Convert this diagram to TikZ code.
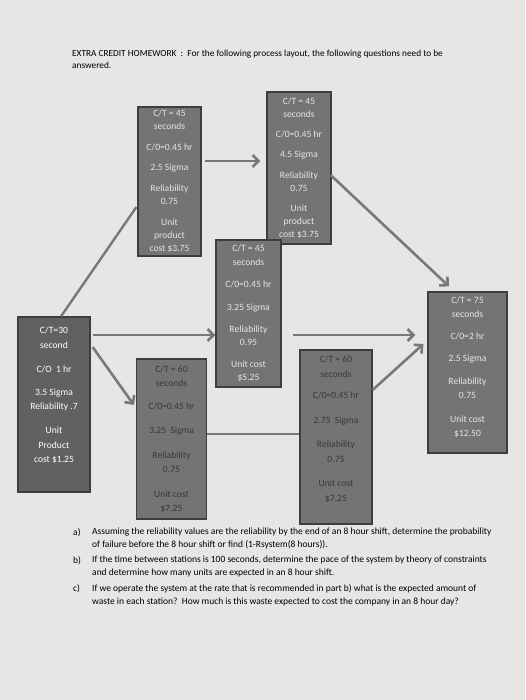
\documentclass[tikz,border=0pt]{standalone}
\usepackage{fontspec}
\setmainfont{Carlito}
\usetikzlibrary{arrows.meta}
\definecolor{paper}{RGB}{230,230,228}
\definecolor{boxfill}{RGB}{116,116,116}
\definecolor{boxline}{RGB}{62,62,62}
\definecolor{arrowgray}{RGB}{120,120,120}
\begin{document}
\begin{tikzpicture}[
        x=1pt, y=-1pt,
        station/.style={draw=boxline, line width=1.2pt, rectangle, fill=boxfill, align=center, text=black!10, inner sep=0pt, font=\fontsize{9.6}{13}\selectfont},
        darktext/.style={text=black!78},
        flow/.style={-{Straight Barb[length=6pt, width=12pt]}, arrowgray, line width=2.6pt},
        link/.style={arrowgray, line width=2.4pt},
        heading/.style={anchor=north west, align=left, inner sep=0pt, font=\fontsize{9.3}{11.5}\selectfont},
        question/.style={anchor=north west, align=left, inner sep=0pt, font=\fontsize{9.5}{13}\selectfont}
    ]
    \useasboundingbox[fill=paper] (0,0) rectangle (525,700);

    % --- Heading ---
    \node[heading] (title) at (72, 50) {EXTRA CREDIT HOMEWORK\ \ :\ \ For the following process layout, the following questions need to be\\answered.};

    % --- Stations ---
    \node[station, minimum width=72, minimum height=175, fill=black!62, text=white, font=\fontsize{9.6}{14.5}\selectfont] (start) at (54, 404.5)
        {C/T=30\\second\\[9.5pt]C/O\ \ 1 hr\\[8.5pt]3.5 Sigma\\Reliability .7\\[9.5pt]Unit\\Product\\cost \$1.25\\[5pt]\mbox{}};
    \node[station, minimum width=63, minimum height=149] (a) at (169.5, 181.5)
        {C/T = 45\\seconds\\[8pt]C/0=0.45 hr\\[7pt]2.5 Sigma\\[8pt]Reliability\\0.75\\[8pt]Unit\\product\\cost \$3.75};
    \node[station, minimum width=64, minimum height=152] (b) at (299, 168)
        {C/T = 45\\seconds\\[7pt]C/0=0.45 hr\\[7pt]4.5 Sigma\\[8pt]Reliability\\0.75\\[7pt]Unit\\product\\cost \$3.75};
    \node[station, minimum width=65, minimum height=147, font=\fontsize{9.6}{13.5}\selectfont] (c) at (248.5, 313.5)
        {C/T = 45\\seconds\\[9pt]C/0=0.45 hr\\[9.5pt]3.25 Sigma\\[8pt]Reliability\\0.95\\[8pt]Unit cost\\\$5.25};
    \node[station, darktext, minimum width=70, minimum height=160, font=\fontsize{9.6}{14.5}\selectfont] (e) at (171.5, 439)
        {C/T = 60\\seconds\\[8pt]C/0=0.45 hr\\[10pt]3.25\ \ Sigma\\[10pt]Reliability\\0.75\\[10pt]Unit cost\\\$7.25};
    \node[station, darktext, minimum width=72, minimum height=174, font=\fontsize{9.6}{14.5}\selectfont] (f) at (336, 437)
        {C/T = 60\\seconds\\[7pt]C/0=0.45 hr\\[10pt]2.75\ \ Sigma\\[10pt]Reliability\\0.75\\[10pt]Unit cost\\\$7.25\\[2pt]\mbox{}};
    \node[station, minimum width=79, minimum height=161, font=\fontsize{9.6}{14}\selectfont] (g) at (467.5, 372.5)
        {C/T = 75\\seconds\\[8pt]C/0=2 hr\\[8pt]2.5 Sigma\\[9pt]Reliability\\0.75\\[10pt]Unit cost\\\$12.50\\[-2pt]\mbox{}};

    % --- Connectors ---
    \draw[link] ([shift={(7,0)}]start.north) -- ([shift={(-1,25.5)}]a.west);
    \draw[flow] ([shift={(3,-20.5)}]a.east) -- ([shift={(-6,-7)}]b.west);
    \draw[flow] ([shift={(-1,7)}]b.east) -- ([shift={(-18.5,-5)}]g.north);
    \draw[flow] ([shift={(2,-69.5)}]start.east) -- ([shift={(0,21.5)}]c.west);
    \draw[flow] ([shift={(2,-57.5)}]start.east) -- ([shift={(-2,-34)}]e.west);
    \draw[flow] ([shift={(11,21.5)}]c.east) -- ([shift={(-12,-37.5)}]g.west);
    \draw[link] ([shift={(0,-5)}]e.east) -- ([shift={(0,-3)}]f.west);
    \draw[flow] ([shift={(0,-47)}]f.east) -- ([shift={(-4,-28.5)}]g.west);

    % --- Questions ---
    \node[question] (qa label) at (73, 528) {a)};
    \node[question] (qa) at (92, 528) {Assuming the reliability values are the reliability by the end of an 8 hour shift, determine the probability\\of failure before the 8 hour shift or find (1-Rsystem(8 hours)).};
    \node[question] (qb label) at (73, 556) {b)};
    \node[question] (qb) at (92, 556) {If the time between stations is 100 seconds, determine the pace of the system by theory of constraints\\and determine how many units are expected in an 8 hour shift.};
    \node[question] (qc label) at (73, 584) {c)};
    \node[question] (qc) at (92, 584) {If we operate the system at the rate that is recommended in part b) what is the expected amount of\\waste in each station?\ \ How much is this waste expected to cost the company in an 8 hour day?};

    \end{tikzpicture}
\end{document}
